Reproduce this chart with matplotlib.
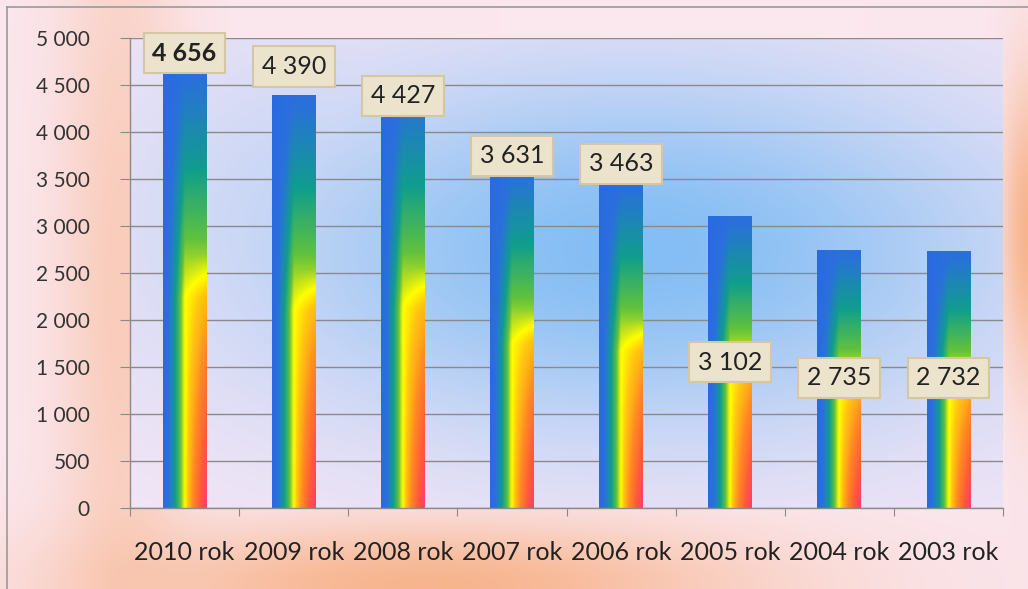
import numpy as np
import matplotlib
matplotlib.use("Agg")
import matplotlib.pyplot as plt
from matplotlib.colors import LinearSegmentedColormap
from matplotlib.lines import Line2D
from matplotlib.ticker import FuncFormatter, FixedLocator

plt.rcParams['font.family'] = ['Lato', 'DejaVu Sans']

# data
years = ['2010 rok', '2009 rok', '2008 rok', '2007 rok', '2006 rok', '2005 rok', '2004 rok', '2003 rok']
values = [4656, 4390, 4427, 3631, 3463, 3102, 2735, 2732]
label_y = [4840, 4697, 4383, 3745, 3660, 1553, 1383, 1383]  # where the boxes sit

W, H = 1028, 589
fig = plt.figure(figsize=(W / 100, H / 100), dpi=100)

# figure background: pink with orange glows
yy, xx = np.mgrid[0:H, 0:W].astype(float)
base = np.array([251, 231, 238]) / 255
orange = np.array([247, 172, 125]) / 255
blobs = [(120, 290, 45, 320, 0.45),   # left strip
         (430, 585, 240, 45, 0.85),   # bottom band
         (1028, 230, 20, 110, 0.85)]  # right edge
keep = np.ones((H, W))
for cx, cy, sx, sy, s in blobs:
    g = s * np.exp(-((xx - cx) / sx) ** 2 / 2 - ((yy - cy) / sy) ** 2 / 2)
    keep *= 1 - g
w = 1 - keep
bgimg = base[None, None, :] * keep[..., None] + orange[None, None, :] * w[..., None]
bgax = fig.add_axes([0, 0, 1, 1], zorder=-1)
bgax.imshow(bgimg, aspect='auto', extent=[0, 1, 0, 1])
bgax.axis('off')

# frame lines (top / left)
fig.add_artist(Line2D([7 / W, 1], [1 - 7 / H, 1 - 7 / H], color='#9a9a9a', lw=1.2))
fig.add_artist(Line2D([7 / W, 7 / W], [0, 1 - 7 / H], color='#9a9a9a', lw=1.2))

ax = fig.add_axes([130 / W, (H - 508) / H, (1003 - 130) / W, (508 - 38) / H])
ax.patch.set_visible(False)

# plot area background: lavender with blue glow in middle
n = len(values)
ph, pw = 300, 600
v, u = np.mgrid[0:ph, 0:pw].astype(float)
v /= ph
u /= pw
lav = np.array([244, 230, 246]) / 255
blue = np.array([132, 190, 244]) / 255
g = 1.0 * np.exp(-((u - 0.58) / 0.32) ** 2 / 2 - ((v - 0.45) / 0.28) ** 2 / 2)
g = np.maximum(g, 0.45 * np.exp(-((u - 0.25) / 0.2) ** 2 / 2 - ((v - 0.4) / 0.3) ** 2 / 2))
pbg = lav[None, None, :] * (1 - g[..., None]) + blue[None, None, :] * g[..., None]
ax.imshow(pbg, extent=[-0.5, n - 0.5, 0, 5000], aspect='auto', zorder=0)

# rainbow bars
cmap = LinearSegmentedColormap.from_list('rb', [
    (0.0, '#2a6ae2'), (0.12, '#2a70dc'), (0.28, '#109e8c'), (0.40, '#62c23c'),
    (0.46, '#c8e41a'), (0.50, '#ffff00'), (0.56, '#ffc810'), (0.68, '#ff8a22'),
    (0.84, '#ff5a3a'), (1.0, '#ff3c70')])
bw = 0.4
bh, bwpx = 200, 60
by, bx = np.mgrid[0:bh, 0:bwpx].astype(float)
xf = bx / (bwpx - 1)
yd = by / (bh - 1)
a = np.clip(0.22 + 1.5 * yd, 0, 1)
b = np.clip((yd - 0.42) / 0.58, 0, 1)
t = np.minimum(xf, 0.5) * a + np.maximum(xf - 0.5, 0) * b
barimg = cmap(t)
for i, val in enumerate(values):
    ax.imshow(barimg, extent=[i - bw / 2, i + bw / 2, 0, val], aspect='auto', zorder=2)

ax.set_xlim(-0.5, n - 0.5)
ax.set_ylim(0, 5000)

# axes styling
for sp in ['top', 'right']:
    ax.spines[sp].set_visible(False)
for sp in ['left', 'bottom']:
    ax.spines[sp].set_color('#8a8a8a')
    ax.spines[sp].set_linewidth(1)
ax.set_axisbelow(True)
ax.yaxis.grid(True, color='#8a8a8a', lw=1)
ax.set_yticks(np.arange(0, 5001, 500))
ax.yaxis.set_major_formatter(FuncFormatter(lambda x, p: f'{int(x):,}'.replace(',', ' ')))
ax.tick_params(axis='y', length=7, color='#8a8a8a', pad=22, labelsize=15, labelcolor='#333333')

ax.xaxis.set_major_locator(FixedLocator(np.arange(-0.5, n, 1)))
ax.xaxis.set_major_formatter(FuncFormatter(lambda x, p: ''))
ax.xaxis.set_minor_locator(FixedLocator(np.arange(n)))
ax.set_xticklabels(years, minor=True)
ax.tick_params(axis='x', which='major', length=6, color='#8a8a8a')
ax.tick_params(axis='x', which='minor', length=0, pad=24, labelsize=18, labelcolor='#222222')

# value boxes
for i, (val, ly) in enumerate(zip(values, label_y)):
    ax.text(i, ly, f'{val:,}'.replace(',', ' '), ha='center', va='center',
            fontsize=18, color='#222222', fontweight='bold' if i == 0 else 'normal',
            zorder=5,
            bbox=dict(boxstyle='square,pad=0.35', fc='#ebe3cc', ec='#d4c7a2', lw=1.5))

fig.savefig('out.png', dpi=100)
